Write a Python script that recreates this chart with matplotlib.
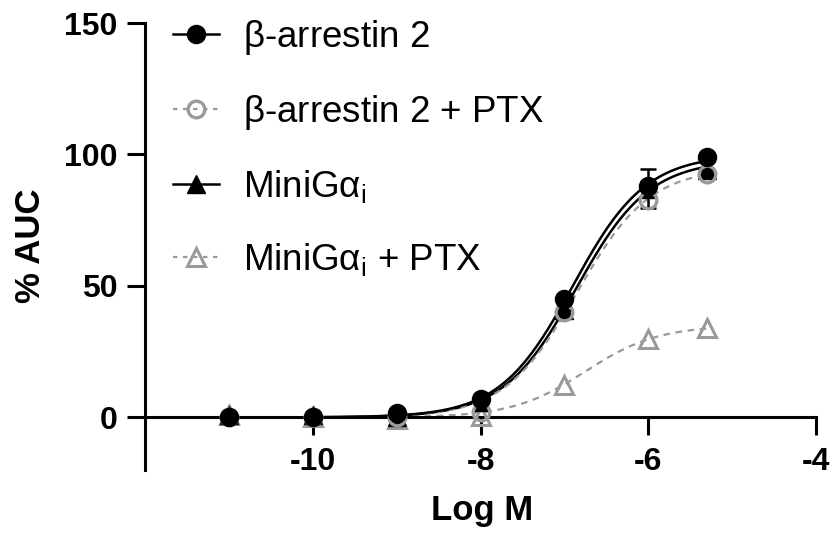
import numpy as np
import matplotlib
matplotlib.use("Agg")
import matplotlib.pyplot as plt
from matplotlib.lines import Line2D

# ---- data ----
log_conc = [-11, -10, -9, -8, -7, -6, -5.3]
barr2 = [0, 0, 1.5, 7, 45, 88, 99]
barr2_ptx = [0, 0, 0, 2, 40, 82.5, 92.5]
minigai = [1, 1, 0, 6, 41, 87, 94]
minigai_err = [0, 0, 0, 0, 0, 7.5, 0]
minigai_ptx = [1, 0, -0.5, 0.5, 12.5, 30, 34]

# fitted curve parameters: (bottom, top, logEC50, hill)
fit_barr2 = [0, 100, -6.9, 1.0]
fit_barr2_ptx = [0, 95, -6.85, 1.0]
fit_minigai = [0, 98, -6.86, 1.0]
fit_minigai_ptx = [0, 35, -6.75, 1.0]

labels = [r"$\beta$-arrestin 2", r"$\beta$-arrestin 2 + PTX",
          r"MiniG$\alpha_\mathregular{i}$", r"MiniG$\alpha_\mathregular{i}$ + PTX"]

x_ticks = [-10, -8, -6, -4]
y_ticks = [0, 50, 100, 150]

plt.rcParams['font.family'] = ['Liberation Sans', 'DejaVu Sans']
plt.rcParams['mathtext.fontset'] = 'custom'
plt.rcParams['mathtext.rm'] = 'Liberation Sans'
plt.rcParams['mathtext.it'] = 'Liberation Sans'

fig = plt.figure(figsize=(8.34, 5.40), dpi=100)
ax = fig.add_axes([0.1739, 0.1296, 0.8045, 0.8278])

def hill(params, x):
    b, t, ec, h = params
    return b + (t - b) / (1 + 10 ** ((ec - x) * h))

xs = np.linspace(min(log_conc), max(log_conc), 400)
gray = '#9a9a9a'
ms = 13

# MiniGai + PTX
ax.plot(xs, hill(fit_minigai_ptx, xs), color=gray, lw=1.6, ls=(0, (3, 2.5)), zorder=2)
ax.plot(log_conc, minigai_ptx, ls='none', marker='^', ms=ms, mfc='none', mec=gray, mew=2.2, zorder=3)
# MiniGai
ax.plot(xs, hill(fit_minigai, xs), color='black', lw=1.8, zorder=2)
ax.errorbar(log_conc, minigai, yerr=minigai_err, fmt='none', ecolor='black', elinewidth=1.8,
            capsize=6, capthick=1.8, zorder=3)
ax.plot(log_conc, minigai, ls='none', marker='^', ms=ms, color='black', zorder=4)
# b-arr2 + PTX
ax.plot(xs, hill(fit_barr2_ptx, xs), color=gray, lw=1.6, ls=(0, (3, 2.5)), zorder=2)
ax.plot(log_conc, barr2_ptx, ls='none', marker='o', ms=ms - 1, mfc='none', mec=gray, mew=2.4, zorder=5)
# b-arr2
ax.plot(xs, hill(fit_barr2, xs), color='black', lw=1.8, zorder=2)
ax.plot(log_conc, barr2, ls='none', marker='o', ms=ms, color='black', zorder=6)

# legend handles
handles = [
    Line2D([], [], color='black', lw=1.8, marker='o', ms=ms),
    Line2D([], [], color=gray, lw=1.6, ls=(0, (2, 2.5)), marker='o', ms=ms - 1, mfc='none', mec=gray, mew=2.4),
    Line2D([], [], color='black', lw=1.8, marker='^', ms=ms),
    Line2D([], [], color=gray, lw=1.6, ls=(0, (2, 2.5)), marker='^', ms=ms, mfc='none', mec=gray, mew=2.2),
]
leg = ax.legend(handles, labels, loc='upper left', bbox_to_anchor=(0.02, 1.045), frameon=False,
                fontsize=26.5, handlelength=1.25, handletextpad=0.65, labelspacing=0.98,
                borderaxespad=0)

ax.set_xlim(-12, -4)
ax.set_ylim(-20, 150)
ax.spines['top'].set_visible(False)
ax.spines['right'].set_visible(False)
ax.spines['bottom'].set_position(('data', 0))
for s in ['left', 'bottom']:
    ax.spines[s].set_linewidth(2.2)
ax.set_xticks(x_ticks)
ax.set_yticks(y_ticks)
ax.tick_params(axis='both', direction='out', length=13, width=2.2, labelsize=23, pad=7)
ax.tick_params(axis='x', pad=8)
ax.set_yticklabels([str(v) for v in y_ticks], fontweight='bold')
ax.set_xticklabels([str(v) for v in x_ticks], fontweight='bold')

fig.text(0.578, 0.055, 'Log M', fontsize=25, fontweight='bold', ha='center', va='center')
fig.text(0.037, 0.545, '% AUC', fontsize=25, fontweight='bold', ha='center', va='center', rotation=90)

fig.savefig('out.png', dpi=100)
